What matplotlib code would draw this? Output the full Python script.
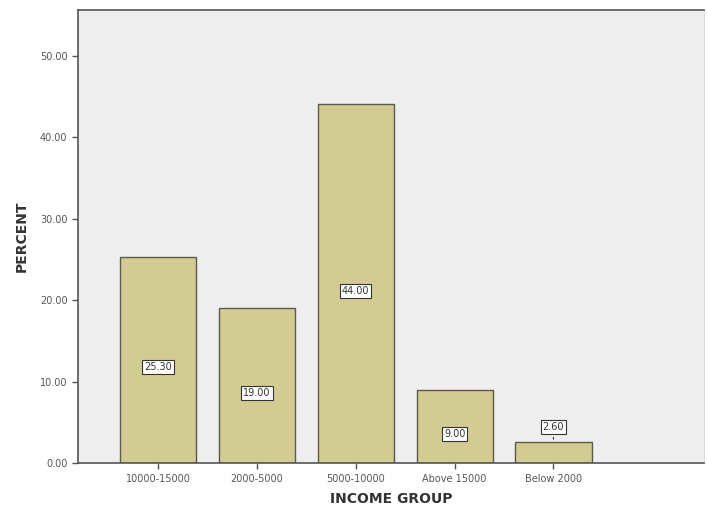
import matplotlib
matplotlib.use("Agg")
import matplotlib.pyplot as plt

groups = ["10000-15000", "2000-5000", "5000-10000", "Above 15000", "Below 2000"]
percent = [25.30, 19.00, 44.00, 9.00, 2.60]

fig = plt.figure(figsize=(7.08, 5.21), dpi=100)
ax = fig.add_axes([0.110, 0.111, 0.884, 0.870])
ax.set_facecolor("#eeeeee")

x = list(range(len(groups)))
ax.bar(x, percent, width=0.77, color="#d3cc92", edgecolor="#5a5a4a", linewidth=1.0, zorder=2)

box = dict(boxstyle="square,pad=0.2", fc="white", ec="#333333", lw=0.8)
for xi, v in zip(x, percent):
    if v < 4:
        # small bar: put label above with a leader line
        ax.annotate(f"{v:.2f}", xy=(xi, v), xytext=(xi, v + 1.8),
                    ha="center", va="center", fontsize=7, color="#333333", bbox=box,
                    arrowprops=dict(arrowstyle="-", color="#333333", lw=0.8), zorder=3)
    else:
        ax.text(xi, v / 2 - 0.9, f"{v:.2f}", ha="center", va="center",
                fontsize=7, color="#333333", bbox=box, zorder=3)

ax.set_xlim(-0.81, 5.52)
ax.set_ylim(0, 55.6)
ax.set_yticks([0, 10, 20, 30, 40, 50])
ax.set_yticklabels([f"{t:.2f}" for t in [0, 10, 20, 30, 40, 50]])
ax.set_xticks(x)
ax.set_xticklabels(groups)
ax.tick_params(axis="both", labelsize=7, colors="#555555", length=4, width=1)

for s in ["top", "left", "bottom"]:
    ax.spines[s].set_color("#555555")
    ax.spines[s].set_linewidth(1.2)
ax.spines["right"].set_color("#dddddd")

ax.set_xlabel("INCOME GROUP", fontsize=10, fontweight="bold", color="#333333", labelpad=6)
ax.set_ylabel("PERCENT", fontsize=10, fontweight="bold", color="#333333", labelpad=8)

fig.savefig("out.png", dpi=100)
